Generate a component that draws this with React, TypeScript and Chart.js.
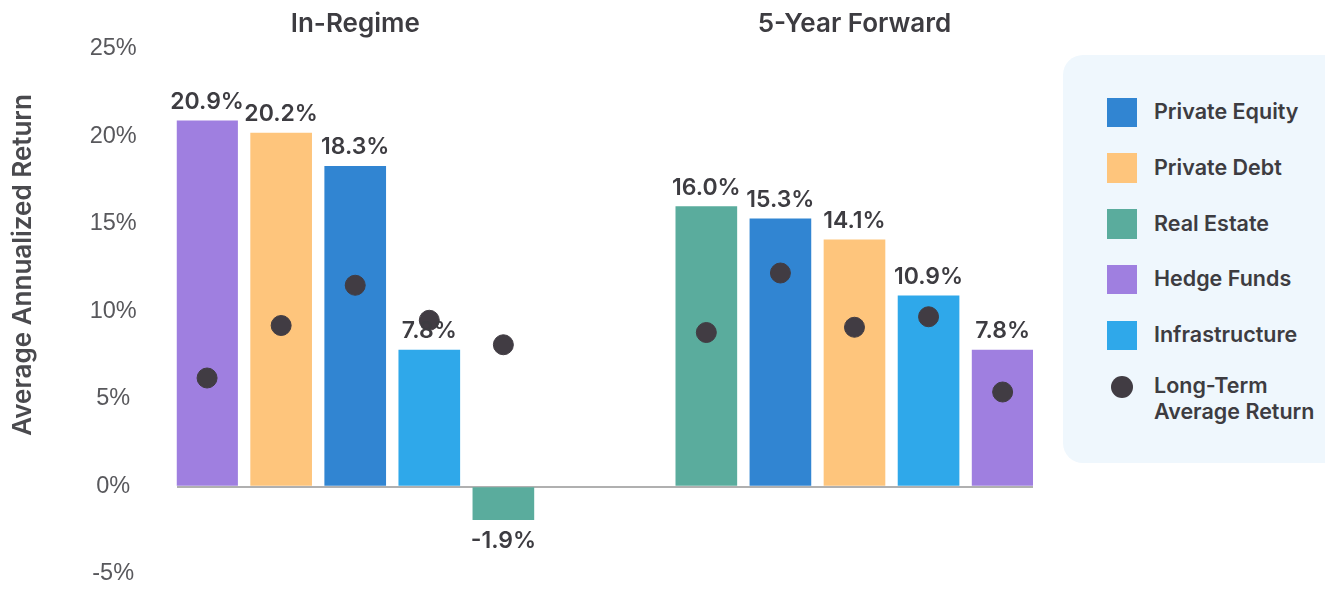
import React, { useEffect, useRef } from "react";
import { Chart, registerables } from "chart.js";

Chart.register(...registerables);

// ---------- data ----------
const groupTitles = ["In-Regime", "5-Year Forward"];

const inRegimeAssets = ["Hedge Funds", "Private Debt", "Private Equity", "Infrastructure", "Real Estate"];
const inRegimeReturns = [20.9, 20.2, 18.3, 7.8, -1.9];
const inRegimeLongTerm = [6.2, 9.2, 11.5, 9.5, 8.1];

const forwardAssets = ["Real Estate", "Private Equity", "Private Debt", "Infrastructure", "Hedge Funds"];
const forwardReturns = [16.0, 15.3, 14.1, 10.9, 7.8];
const forwardLongTerm = [8.8, 12.2, 9.1, 9.7, 5.4];

const legendAssets = ["Private Equity", "Private Debt", "Real Estate", "Hedge Funds", "Infrastructure"];
const longTermLabel = ["Long-Term", "Average Return"];
const yAxisTitle = "Average Annualized Return";
const yMin = -5;
const yMax = 25;
const yStep = 5;

// ---------- styles ----------
const assetColors: Record<string, string> = {
  "Private Equity": "#3185D2",
  "Private Debt": "#FEC57C",
  "Real Estate": "#5AAC9D",
  "Hedge Funds": "#9F7FE0",
  "Infrastructure": "#2FA8EA",
};
const dotColor = "#413C43";
const textDark = "#3D3C41";
const GROUP_STRIDE = 6.74; // layout: slot distance between group starts
const HALF = 0.41;

const groups = [
  { title: groupTitles[0], assets: inRegimeAssets, values: inRegimeReturns, longTerm: inRegimeLongTerm },
  { title: groupTitles[1], assets: forwardAssets, values: forwardReturns, longTerm: forwardLongTerm },
];

const fmt = (v: number) => v.toFixed(1) + "%";

export default function App() {
  const ref = useRef<HTMLCanvasElement | null>(null);

  useEffect(() => {
    const canvas = ref.current;
    if (!canvas) return;

    const barPoints: { x: number; y: number }[] = [];
    const barColors: string[] = [];
    const dotPoints: { x: number; y: number }[] = [];
    groups.forEach((g, gi) => {
      g.values.forEach((v, i) => {
        const x = gi * GROUP_STRIDE + i;
        barPoints.push({ x, y: v });
        barColors.push(assetColors[g.assets[i]]);
        dotPoints.push({ x, y: g.longTerm[i] });
      });
    });
    const lastX = (groups.length - 1) * GROUP_STRIDE + groups[groups.length - 1].values.length - 1;

    const overlay = {
      id: "overlay",
      afterDatasetsDraw(chart: any) {
        const { ctx, scales } = chart;
        const meta = chart.getDatasetMeta(1);
        ctx.save();
        ctx.fillStyle = textDark;
        ctx.textAlign = "center";
        ctx.font = "600 23px Inter";
        meta.data.forEach((el: any, i: number) => {
          const v = barPoints[i].y;
          ctx.textBaseline = "alphabetic";
          if (v >= 0) ctx.fillText(fmt(v), el.x, el.y - 12);
          else ctx.fillText(fmt(v), el.x, el.y + 28);
        });
        // group titles
        ctx.font = "600 26px Inter";
        groups.forEach((g, gi) => {
          const c = gi * GROUP_STRIDE + (g.values.length - 1) / 2;
          ctx.fillText(g.title, scales.x.getPixelForValue(c), 31.5);
        });
        // y axis title
        ctx.translate(23, 265);
        ctx.rotate(-Math.PI / 2);
        ctx.textBaseline = "middle";
        ctx.textAlign = "center";
        ctx.fillStyle = "#4A4A4E";
        ctx.font = "600 26px Inter";
        ctx.fillText(yAxisTitle, 0, 0);
        ctx.restore();
      },
    };

    const chart = new Chart(canvas, {
      type: "bar",
      data: {
        datasets: [
          {
            type: "scatter",
            data: dotPoints,
            backgroundColor: dotColor,
            borderColor: dotColor,
            pointRadius: 10,
            pointHoverRadius: 10,
            order: 0,
          } as any,
          {
            type: "bar",
            data: barPoints,
            backgroundColor: barColors,
            barThickness: 61,
            borderWidth: 0,
            order: 1,
          } as any,
        ],
      },
      options: {
        animation: false,
        responsive: false,
        maintainAspectRatio: false,
        layout: { padding: { left: 0, right: 292, top: 49, bottom: 15 } },
        plugins: { legend: { display: false }, tooltip: { enabled: false } },
        scales: {
          x: {
            type: "linear",
            min: -HALF,
            max: lastX + HALF,
            offset: false,
            display: false,
          },
          y: {
            min: yMin,
            max: yMax,
            afterFit: (s: any) => {
              s.width = 176.7;
              s.paddingTop = 0;
              s.paddingBottom = 0;
            },
            border: { display: false },
            grid: {
              drawTicks: false,
              lineWidth: 2,
              color: (c: any) => (c.tick && c.tick.value === 0 ? "#B0B0B0" : "rgba(0,0,0,0)"),
            },
            ticks: {
              stepSize: yStep,
              padding: 40,
              crossAlign: "center",
              color: "#58585C",
              font: { family: "'Liberation Sans'", size: 23.5 },
              callback: (v: any) => v + "%",
            },
          },
        },
      },
      plugins: [overlay],
    });
    return () => chart.destroy();
  }, []);

  const itemCenters = legendAssets.map((_, i) => 112 + i * 55.8);

  return (
    <div style={{ position: "fixed", left: 0, top: 0, width: 1325, height: 589, background: "#fff", overflow: "hidden" }}>
      <canvas ref={ref} width={1325} height={589} style={{ position: "absolute", left: 0, top: 0, width: 1325, height: 589 }} />
      <div
        style={{
          position: "absolute",
          left: 1063,
          top: 55,
          width: 320,
          height: 408,
          borderRadius: 20,
          background: "#EFF7FD",
        }}
      />
      {legendAssets.map((a, i) => (
        <div key={a}>
          <div
            style={{
              position: "absolute",
              left: 1107,
              top: itemCenters[i] - 14.5,
              width: 29.5,
              height: 29.5,
              background: assetColors[a],
            }}
          />
          <div
            style={{
              position: "absolute",
              left: 1154,
              top: itemCenters[i] - 14,
              height: 28,
              lineHeight: "28px",
              font: "600 21.5px Inter",
              color: textDark,
              whiteSpace: "nowrap",
            }}
          >
            {a}
          </div>
        </div>
      ))}
      <div
        style={{
          position: "absolute",
          left: 1111,
          top: 376,
          width: 22,
          height: 22,
          borderRadius: "50%",
          background: dotColor,
        }}
      />
      <div
        style={{
          position: "absolute",
          left: 1154,
          top: 372,
          lineHeight: "28px",
          font: "600 21.5px Inter",
          color: textDark,
          whiteSpace: "nowrap",
        }}
      >
        {longTermLabel[0]}
        <br />
        {longTermLabel[1]}
      </div>
    </div>
  );
}
